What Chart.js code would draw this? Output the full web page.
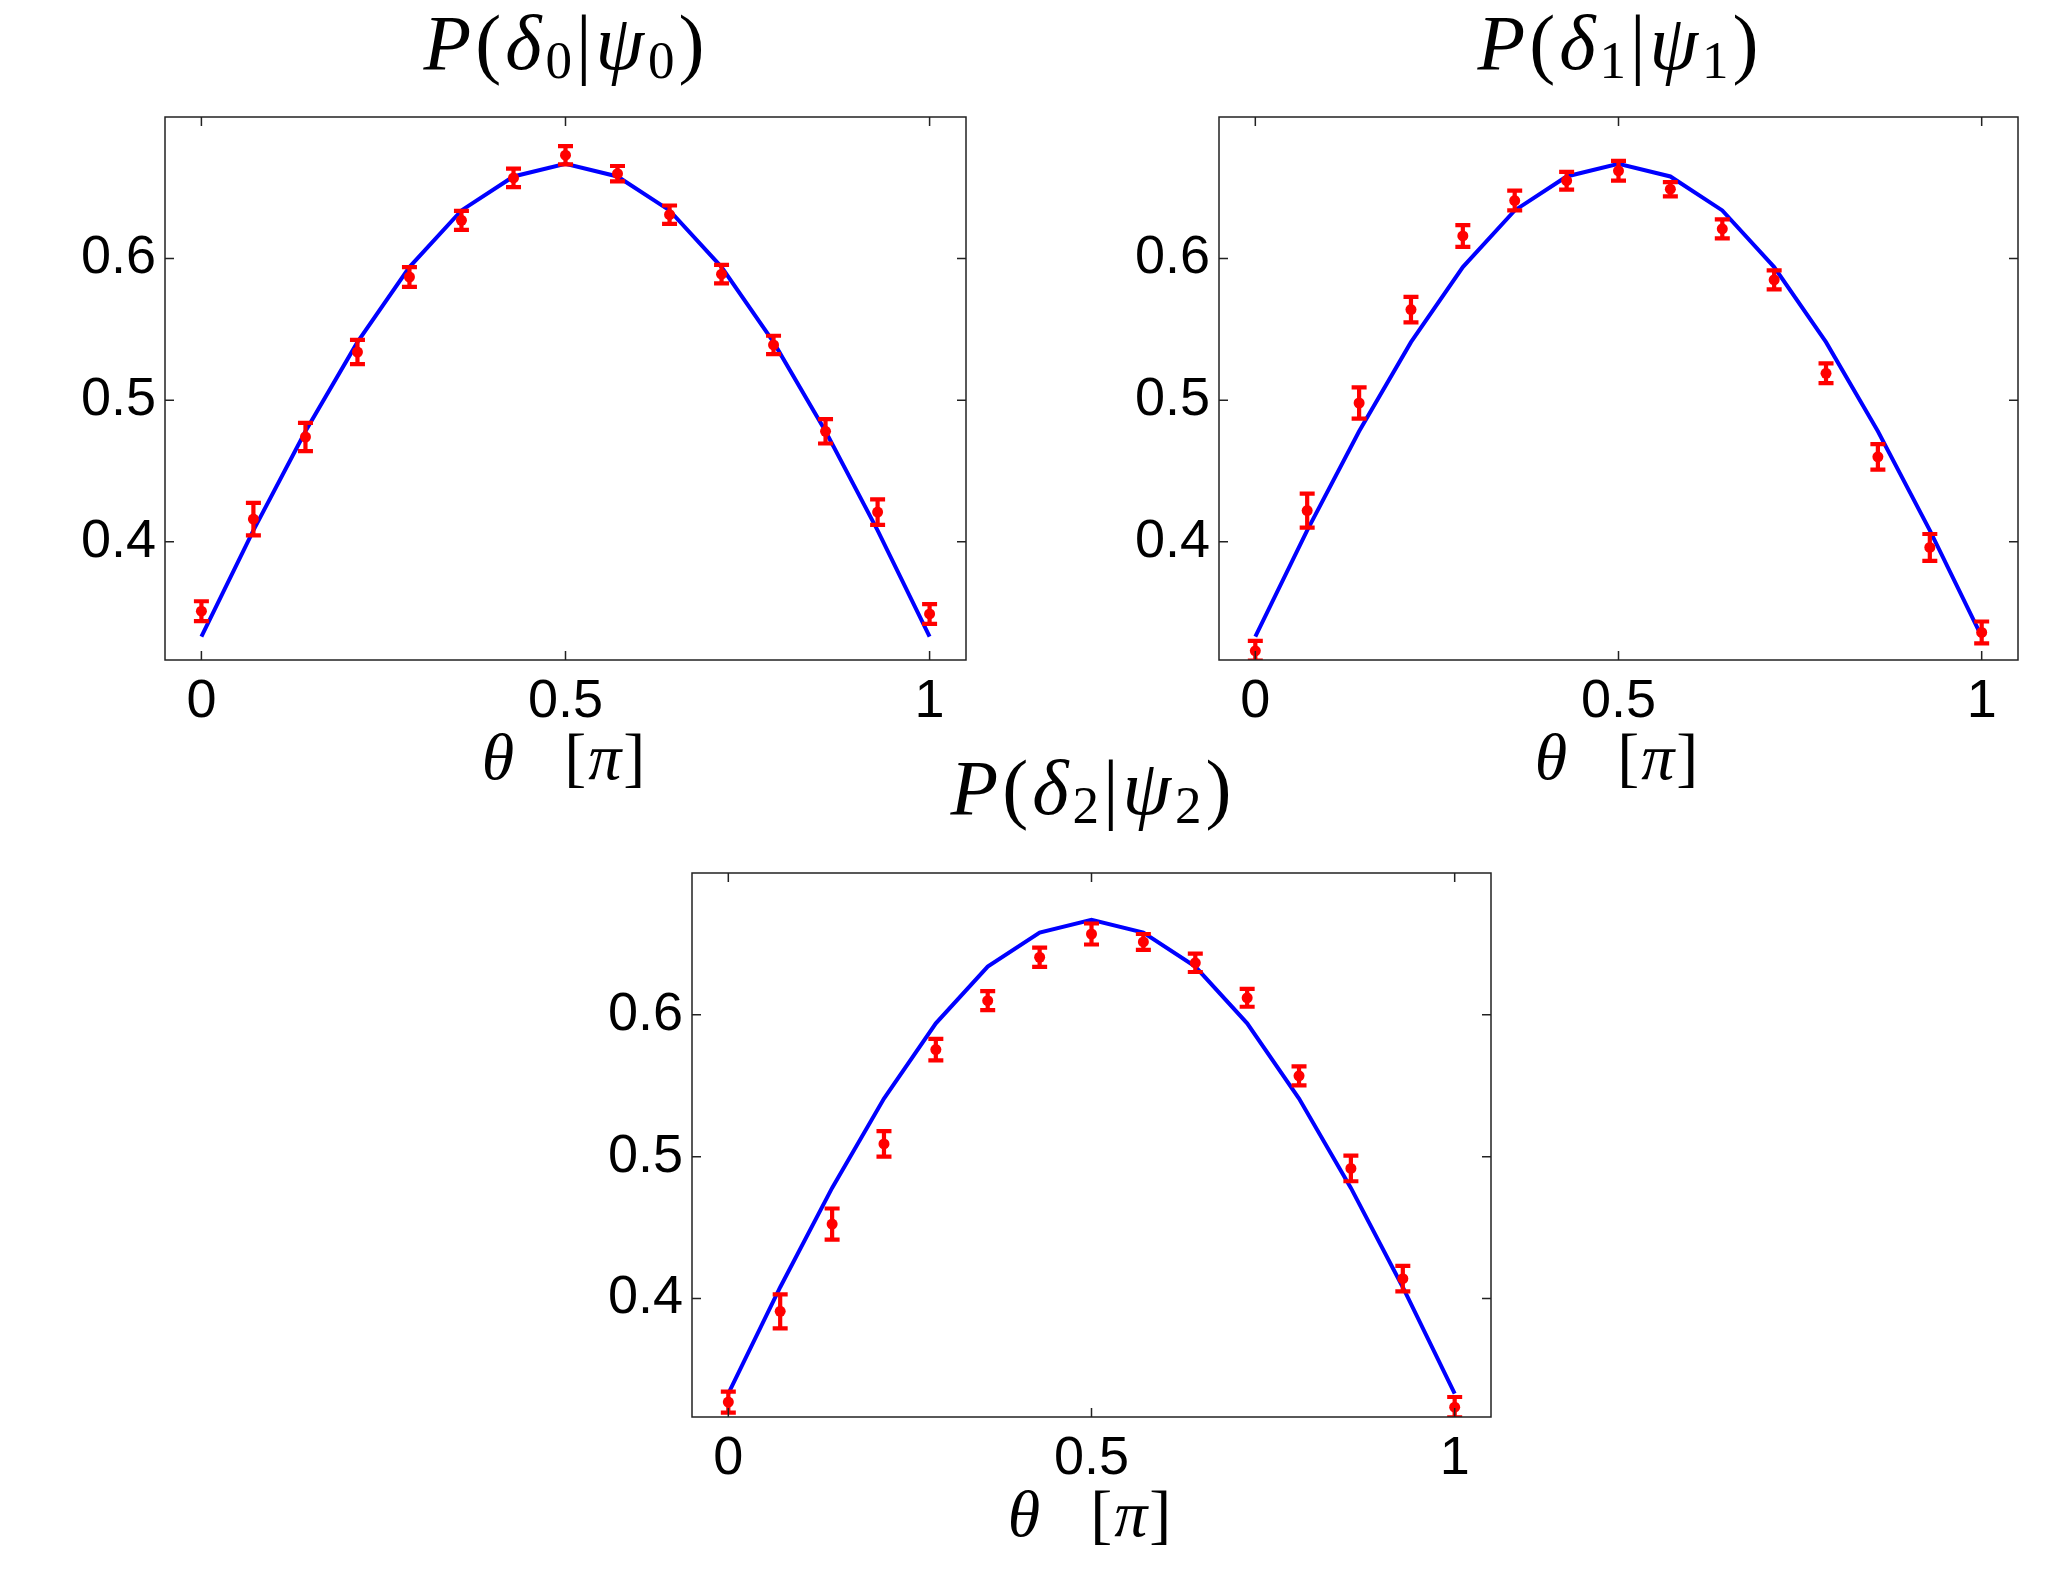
<!DOCTYPE html>
<html>
<head>
<meta charset="utf-8">
<script src="https://cdn.jsdelivr.net/npm/chart.js@4.4.0/dist/chart.umd.min.js"></script>
<style>
body { margin: 0; background: #fff; width: 2067px; height: 1594px; position: relative; overflow: hidden; }
.panel { position: absolute; }
.ttl { position: absolute; width: 600px; text-align: center; font-family: 'Liberation Serif', 'Times New Roman', serif; font-size: 78px; line-height: 1; color: #000; white-space: nowrap; letter-spacing: 4px; }
.ttl i { font-style: italic; }
.ttl sub { font-size: 0.68em; vertical-align: -0.17em; line-height: 0; }
</style>
</head>
<body>
<div class="ttl" style="left:266px;top:4px"><i>P</i>(<i>δ</i><sub>0</sub>|<i>ψ</i><sub>0</sub>)</div>
<div class="ttl" style="left:1320px;top:4px"><i>P</i>(<i>δ</i><sub>1</sub>|<i>ψ</i><sub>1</sub>)</div>
<div class="ttl" style="left:793px;top:749px"><i>P</i>(<i>δ</i><sub>2</sub>|<i>ψ</i><sub>2</sub>)</div>
<div class="panel" id="p0"><canvas id="c0"></canvas></div>
<div class="panel" id="p1"><canvas id="c1"></canvas></div>
<div class="panel" id="p2"><canvas id="c2"></canvas></div>
<script>
// theta in units of pi
const theta = [0, 0.0714, 0.1429, 0.2143, 0.2857, 0.3571, 0.4286, 0.5, 0.5714, 0.6429, 0.7143, 0.7857, 0.8571, 0.9286, 1];
// theory curve (same in all three panels)
const theory = [0.333, 0.408, 0.478, 0.541, 0.594, 0.634, 0.658, 0.667, 0.658, 0.634, 0.594, 0.541, 0.478, 0.408, 0.333];

// measured values and error bar half-widths
const p0 = [0.351, 0.416, 0.474, 0.534, 0.587, 0.627, 0.657, 0.673, 0.660, 0.631, 0.589, 0.539, 0.478, 0.421, 0.349];
const e0 = [0.007, 0.0115, 0.010, 0.0086, 0.007, 0.0067, 0.0065, 0.0065, 0.0054, 0.0065, 0.0065, 0.0065, 0.0086, 0.009, 0.007];
const p1 = [0.323, 0.422, 0.498, 0.564, 0.616, 0.641, 0.655, 0.662, 0.649, 0.621, 0.585, 0.519, 0.460, 0.396, 0.336];
const e1 = [0.007, 0.012, 0.011, 0.009, 0.0077, 0.007, 0.0063, 0.007, 0.005, 0.0067, 0.0067, 0.007, 0.009, 0.0095, 0.0077];
const p2 = [0.327, 0.391, 0.4525, 0.509, 0.5755, 0.610, 0.6406, 0.657, 0.6514, 0.6367, 0.612, 0.557, 0.4917, 0.414, 0.3234];
const e2 = [0.0074, 0.012, 0.011, 0.009, 0.0076, 0.0067, 0.0068, 0.0074, 0.0056, 0.0065, 0.0063, 0.0067, 0.009, 0.009, 0.0072];

const xTicks = [0, 0.5, 1];
const yTicks = [0.4, 0.5, 0.6];
const xRange = [-0.05, 1.05];
const yRange = [0.3165, 0.70];

Chart.defaults.font.family = "'Liberation Sans', Arial, sans-serif";
Chart.defaults.color = '#000';

// matlab-like box with inward ticks on all four sides
const boxPlugin = {
    id: 'box',
    afterDraw(chart) {
        const { ctx, chartArea: a, scales } = chart;
        ctx.save();
        ctx.strokeStyle = '#222';
        ctx.lineWidth = 1.5;
        ctx.strokeRect(a.left, a.top, a.right - a.left, a.bottom - a.top);
        const len = 9;
        ctx.beginPath();
        xTicks.forEach(v => {
            const x = scales.x.getPixelForValue(v);
            ctx.moveTo(x, a.bottom); ctx.lineTo(x, a.bottom - len);
            ctx.moveTo(x, a.top); ctx.lineTo(x, a.top + len);
        });
        yTicks.forEach(v => {
            const y = scales.y.getPixelForValue(v);
            ctx.moveTo(a.left, y); ctx.lineTo(a.left + len, y);
            ctx.moveTo(a.right, y); ctx.lineTo(a.right - len, y);
        });
        ctx.stroke();
        ctx.restore();
    }
};

// x label "θ [π]" with latex-like upright brackets
const xLabelPlugin = {
    id: 'xLabel',
    afterDraw(chart) {
        const { ctx, chartArea: a } = chart;
        const ital = "italic 66px 'Liberation Serif', 'Times New Roman', serif";
        const up = "66px 'Liberation Serif', 'Times New Roman', serif";
        const parts = [['θ', ital, 0], ['[', up, 50], ['π', ital, 2], [']', up, 2]];
        ctx.save();
        ctx.fillStyle = '#000';
        ctx.textBaseline = 'alphabetic';
        ctx.textAlign = 'left';
        let total = 0;
        parts.forEach(p => { ctx.font = p[1]; total += p[2] + ctx.measureText(p[0]).width; });
        let x = (a.left + a.right) / 2 - total / 2 - 2;
        const y = a.bottom + 119;
        parts.forEach(p => {
            ctx.font = p[1];
            x += p[2];
            ctx.fillText(p[0], x, y);
            x += ctx.measureText(p[0]).width;
        });
        ctx.restore();
    }
};

// error bars from the errors array of each panel
const errorBarPlugin = {
    id: 'errorBars',
    afterDatasetsDraw(chart, args, opts) {
        const { ctx, chartArea: a, scales } = chart;
        const vals = opts.values, errs = opts.errors;
        if (!vals) return;
        ctx.save();
        ctx.beginPath();
        ctx.rect(a.left, a.top, a.right - a.left, a.bottom - a.top);
        ctx.clip();
        ctx.strokeStyle = '#ff0000';
        ctx.lineWidth = 4.2;
        const cap = 7.5;
        ctx.beginPath();
        vals.forEach((v, i) => {
            const x = scales.x.getPixelForValue(theta[i]);
            const y1 = scales.y.getPixelForValue(v - errs[i]);
            const y2 = scales.y.getPixelForValue(v + errs[i]);
            ctx.moveTo(x, y1); ctx.lineTo(x, y2);
            ctx.moveTo(x - cap, y1); ctx.lineTo(x + cap, y1);
            ctx.moveTo(x - cap, y2); ctx.lineTo(x + cap, y2);
        });
        ctx.stroke();
        ctx.restore();
    }
};

const panels = [
    { id: 'c0', wrap: 'p0', box: [165, 117, 966, 660], values: p0, errors: e0 },
    { id: 'c1', wrap: 'p1', box: [1219, 117, 2018, 660], values: p1, errors: e1 },
    { id: 'c2', wrap: 'p2', box: [692, 873, 1491, 1417], values: p2, errors: e2 }
];

const AXW = 130, PADT = 12, PADR = 20, AXH = 140;

panels.forEach(p => {
    const [l, t, r, b] = p.box;
    const w = (r - l) + AXW + PADR;
    const h = (b - t) + PADT + AXH;
    const wrap = document.getElementById(p.wrap);
    wrap.style.left = (l - AXW) + 'px';
    wrap.style.top = (t - PADT) + 'px';
    const canvas = document.getElementById(p.id);
    canvas.width = w;
    canvas.height = h;

    new Chart(canvas.getContext('2d'), {
        type: 'scatter',
        data: {
            datasets: [
                {
                    data: p.values.map((v, i) => ({ x: theta[i], y: v })),
                    pointRadius: 5.5,
                    pointBackgroundColor: '#ff0000',
                    pointBorderColor: '#ff0000',
                    pointBorderWidth: 0,
                    showLine: false,
                    order: 0
                },
                {
                    data: theory.map((v, i) => ({ x: theta[i], y: v })),
                    showLine: true,
                    borderColor: '#0000ff',
                    borderWidth: 4,
                    pointRadius: 0,
                    tension: 0,
                    order: 1
                }
            ]
        },
        options: {
            responsive: false,
            animation: false,
            devicePixelRatio: 1,
            layout: { padding: { left: 0, right: PADR, top: PADT, bottom: 0 } },
            plugins: {
                legend: { display: false },
                tooltip: { enabled: false },
                errorBars: { values: p.values, errors: p.errors }
            },
            scales: {
                x: {
                    type: 'linear',
                    min: xRange[0],
                    max: xRange[1],
                    afterBuildTicks: s => { s.ticks = xTicks.map(v => ({ value: v })); },
                    afterFit: s => { s.height = AXH; s.paddingLeft = 0; s.paddingRight = 0; },
                    grid: { display: false, drawTicks: false },
                    border: { display: false },
                    ticks: {
                        font: { size: 54 },
                        padding: 10,
                        maxRotation: 0,
                        callback: v => String(v)
                    }
                },
                y: {
                    type: 'linear',
                    min: yRange[0],
                    max: yRange[1],
                    afterBuildTicks: s => { s.ticks = yTicks.map(v => ({ value: v })); },
                    afterFit: s => { s.width = AXW; s.paddingTop = 0; s.paddingBottom = 0; },
                    grid: { display: false, drawTicks: false },
                    border: { display: false },
                    ticks: {
                        font: { size: 54 },
                        padding: 9,
                        callback: v => v.toFixed(1)
                    }
                }
            }
        },
        plugins: [boxPlugin, errorBarPlugin, xLabelPlugin]
    });
});
</script>
</body>
</html>
